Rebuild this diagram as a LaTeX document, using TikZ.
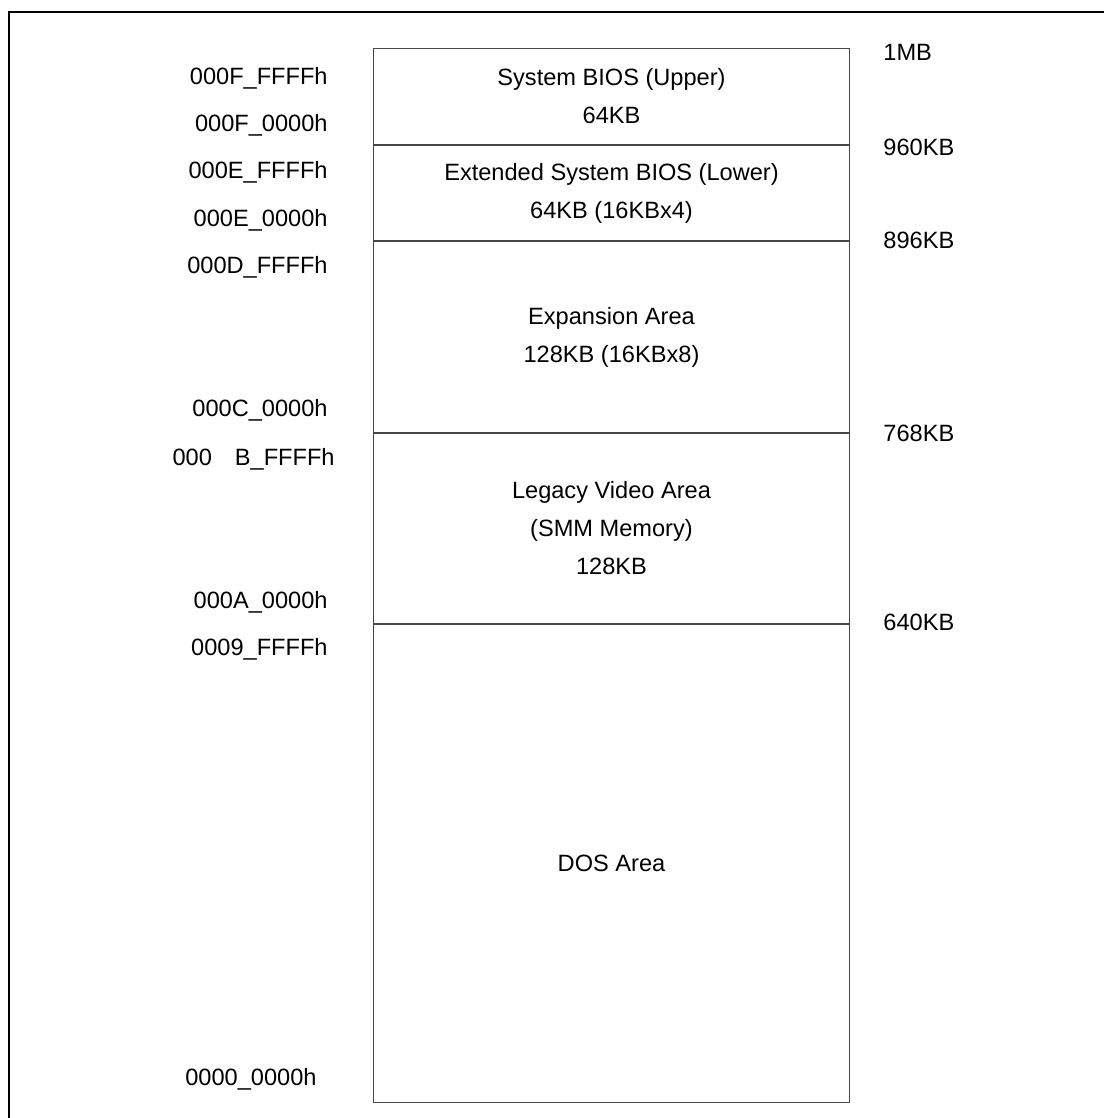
\documentclass[tikz,border=0pt]{standalone}
\usepackage{fontspec}
\setmainfont{Liberation Sans}
\usetikzlibrary{positioning}
\definecolor{MapRule}{RGB}{70,70,70}

\begin{document}
\begin{tikzpicture}[
    x=0.5pt, y=-0.5pt,
    node distance=0pt,
    region/.style={draw=MapRule,line width=0.5pt,minimum width=238pt,align=center,inner sep=0pt,font=\fontsize{11.8}{19}\selectfont},
    addr/.style={anchor=base east,inner sep=0pt,font=\fontsize{11.8}{14}\selectfont},
    kb/.style={anchor=base west,inner sep=0pt,font=\fontsize{11.8}{14}\selectfont}
  ]
    \useasboundingbox (0,0) rectangle (1104,1118);
    \draw[line width=1pt] (9,1118) -- (9,12) -- (1104,12);
    % memory regions, top to bottom
    \node[region,minimum height=48pt,anchor=north west] (biosup) at (373,48) {System BIOS (Upper)\\64KB};
    \node[region,minimum height=47.5pt,below=of biosup] (bioslow) {Extended System BIOS (Lower)\\64KB (16KBx4)};
    \node[region,minimum height=95.5pt,below=of bioslow] (expansion) {Expansion Area\\128KB (16KBx8)};
    \node[region,minimum height=95pt,below=of expansion] (video) {Legacy Video Area\\(SMM Memory)\\128KB};
    \node[region,minimum height=239pt,below=of video] (dos) {DOS Area};
    % addresses
    \node[addr] (aF1) at (328,84.5) {000F\_FFFFh};
    \node[addr] (aF0) at (328,131.5) {000F\_0000h};
    \node[addr] (aE1) at (328,178.5) {000E\_FFFFh};
    \node[addr] (aE0) at (328,226.5) {000E\_0000h};
    \node[addr] (aD1) at (328,273.5) {000D\_FFFFh};
    \node[addr] (aC0) at (328,416.5) {000C\_0000h};
    \node[addr] (aB1) at (335,465.5) {000\hspace{11.5pt}B\_FFFFh};
    \node[addr] (aA0) at (328,608.5) {000A\_0000h};
    \node[addr] (a91) at (328,655.5) {0009\_FFFFh};
    \node[addr] (a00) at (317,1085.5) {0000\_0000h};
    % sizes
    \node[kb] (s1M) at (883,60.5) {1MB};
    \node[kb] (s960) at (883,155.5) {960KB};
    \node[kb] (s896) at (883,248.5) {896KB};
    \node[kb] (s768) at (883,441.5) {768KB};
    \node[kb] (s640) at (883,630.5) {640KB};
  \end{tikzpicture}
\end{document}
